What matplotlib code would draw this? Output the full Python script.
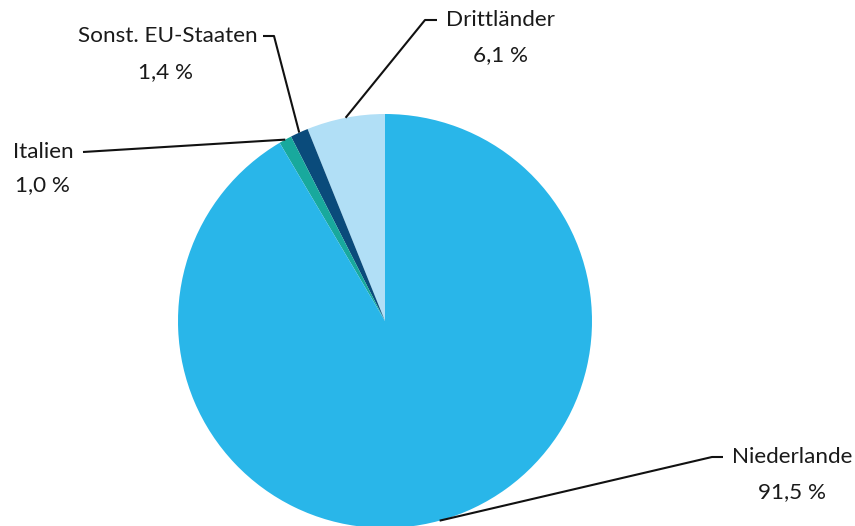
import matplotlib
matplotlib.use("Agg")
import matplotlib.pyplot as plt
import numpy as np

labels = ["Drittländer", "Sonst. EU-Staaten", "Italien", "Niederlande"]
values = [6.1, 1.4, 1.0, 91.5]
value_labels = ["6,1 %", "1,4 %", "1,0 %", "91,5 %"]
colors = ["#b1dff6", "#0a4b7b", "#18a99d", "#29b6e9"]

W, H = 855, 526
fig = plt.figure(figsize=(W / 100, H / 100), dpi=100)
ax = fig.add_axes([0, 0, 1, 1])

cx, cy, R = 385, H - 321, 207
wedges, _ = ax.pie(values, colors=colors, startangle=90, counterclock=True,
                   center=(cx, cy), radius=R, frame=True,
                   wedgeprops=dict(linewidth=0))
ax.set_xlim(0, W)
ax.set_ylim(0, H)
ax.set_aspect("equal")
ax.axis("off")

font = dict(family=["Lato", "DejaVu Sans"], fontsize=16.2, color="#1a1a1a")

layout = {
    "Drittländer": dict(elbow=(425, 20), end=(437, 20), lab=(446, 20, "left"), val=(500, 55)),
    "Sonst. EU-Staaten": dict(elbow=(274, 36), end=(263, 36), lab=(258, 36, "right"), val=(165, 72)),
    "Italien": dict(elbow=None, end=(83, 152), lab=(74, 152, "right"), val=(42, 185)),
    "Niederlande": dict(elbow=(712, 457), end=(723, 457), lab=(732, 457, "left"), val=(792, 492)),
}

for w, lab, vl in zip(wedges, labels, value_labels):
    ang = np.deg2rad((w.theta1 + w.theta2) / 2)
    px, py = cx + R * np.cos(ang), cy + R * np.sin(ang)
    L = layout[lab]
    xs, ys = [px], [py]
    if L["elbow"] is not None:
        xs.append(L["elbow"][0]); ys.append(H - L["elbow"][1])
    xs.append(L["end"][0]); ys.append(H - L["end"][1])
    ax.plot(xs, ys, color="#111111", lw=1.5, solid_capstyle="butt", zorder=5)
    lx, ly, ha = L["lab"]
    ax.text(lx, H - ly, lab, ha=ha, va="center", **font)
    vx, vy = L["val"]
    ax.text(vx, H - vy, vl, ha="center", va="center", **font)

fig.savefig("out.png", dpi=100)
